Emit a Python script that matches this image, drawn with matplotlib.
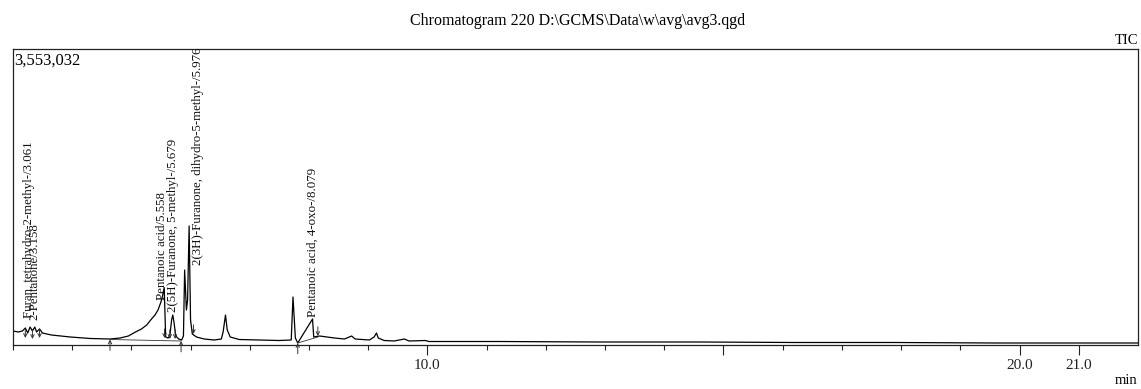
import matplotlib
matplotlib.use("Agg")
import matplotlib.pyplot as plt

# ---------------- data ----------------
title = "Chromatogram 220 D:\\GCMS\\Data\\w\\avg\\avg3.qgd"
y_max_label = "3,553,032"
y_max = 3553032

# retention time (min) and intensity (counts) of the TIC trace
time_min = [3.00, 3.09, 3.16, 3.21, 3.25, 3.29, 3.33, 3.37, 3.40, 3.45, 3.50,
            3.65, 3.97, 4.31, 4.64, 4.81, 4.95, 5.07, 5.17, 5.26, 5.34, 5.40,
            5.45, 5.50, 5.53, 5.555, 5.58, 5.62, 5.65, 5.68, 5.70, 5.72, 5.75,
            5.80, 5.85, 5.88, 5.90, 5.93, 5.95, 5.976, 6.00, 6.03, 6.10, 6.23,
            6.40, 6.52, 6.55, 6.59, 6.62, 6.67, 6.82, 7.16, 7.49, 7.70, 7.73,
            7.77, 7.81, 8.06, 8.08, 8.18, 8.43, 8.60, 8.68, 8.72, 8.78, 9.02,
            9.10, 9.14, 9.17, 9.27, 9.44, 9.61, 9.69, 9.97, 10.02, 11.2, 12.9,
            14.6, 16.2, 17.9, 19.6, 21.3, 22.0]
intensity = [168e3, 156e3, 168e3, 204e3, 144e3, 216e3, 168e3, 216e3, 156e3,
             192e3, 144e3, 120e3, 96e3, 78e3, 72e3, 84e3, 108e3, 156e3, 192e3,
             240e3, 312e3, 360e3, 420e3, 516e3, 600e3, 690e3, 96e3, 84e3,
             108e3, 300e3, 360e3, 276e3, 108e3, 72e3, 60e3, 108e3, 900e3,
             420e3, 540e3, 1428e3, 300e3, 132e3, 96e3, 72e3, 60e3, 72e3, 156e3,
             360e3, 180e3, 96e3, 66e3, 60e3, 54e3, 60e3, 576e3, 84e3, 24e3,
             312e3, 96e3, 108e3, 84e3, 72e3, 96e3, 108e3, 72e3, 60e3, 96e3,
             144e3, 84e3, 54e3, 48e3, 72e3, 48e3, 54e3, 42e3, 42e3, 36e3,
             36e3, 30e3, 30e3, 24e3, 24e3, 24e3]

# identified peaks: name, label anchor time, label anchor intensity
peak_names = ["Furan, tetrahydro-2-methyl-/3.061", "2-Pentanone/3.158",
              "Pentanoic acid/5.558", "2(5H)-Furanone, 5-methyl-/5.679",
              "2(3H)-Furanone, dihydro-5-methyl-/5.976",
              "Pentanoic acid, 4-oxo-/8.079"]
label_time = [3.27, 3.37, 5.51, 5.70, 6.12, 8.06]
label_int = [324e3, 300e3, 540e3, 396e3, 960e3, 336e3]

# integration markers (peak end: down arrow, peak start: up arrow)
end_marks_t = [3.21, 3.33, 3.45, 5.56, 5.65, 5.74, 6.05, 8.15]
end_marks_i = [84e3, 72e3, 84e3, 84e3, 72e3, 72e3, 132e3, 108e3]
start_marks_t = [4.64, 5.84, 7.81]
start_marks_i = [66e3, 48e3, 24e3]

major_ticks = [10, 15, 20, 21]
major_labels = ["10.0", "", "20.0", "21.0"]
minor_ticks = list(range(3, 22))

# ---------------- figure ----------------
W, H = 1141, 389
fig = plt.figure(figsize=(W / 100, H / 100), dpi=100)
serif = "Liberation Serif"
plt.rcParams["font.family"] = serif

ax = fig.add_axes([12.9 / W, 1 - 345 / H, (1138 - 12.9) / W, (345 - 49) / H])
ax.plot(time_min, intensity, color="black", lw=0.9)
ax.set_xlim(3.0, 22.0)
ax.set_ylim(0, y_max)
ax.set_yticks([])

for s in ax.spines.values():
    s.set_linewidth(0.9)
    s.set_color("#222222")

ax.set_xticks(major_ticks)
ax.set_xticklabels(major_labels, fontsize=11)
ax.set_xticks(minor_ticks, minor=True)
ax.tick_params(axis="x", which="major", direction="out", length=7, width=0.8,
               pad=3, colors="#222222")
ax.tick_params(axis="x", which="minor", direction="out", length=3.5, width=0.8,
               colors="#222222")

# peak labels
for name, t, i in zip(peak_names, label_time, label_int):
    ax.text(t, i, name, rotation=90, rotation_mode="anchor", ha="left",
            va="center", fontsize=9.3, color="#111111")

# integration markers
for t, i in zip(end_marks_t, end_marks_i):
    ax.annotate("", xy=(t, i), xytext=(t, i + 110e3),
                arrowprops=dict(arrowstyle="->", lw=0.7, color="#333333",
                                shrinkA=0, shrinkB=0, mutation_scale=6))
for t, i in zip(start_marks_t, start_marks_i):
    ax.annotate("", xy=(t, i), xytext=(t, i - 130e3),
                arrowprops=dict(arrowstyle="->", lw=0.7, color="#333333",
                                shrinkA=0, shrinkB=0, mutation_scale=6),
                annotation_clip=False)

# integration baselines
ax.plot([start_marks_t[0], start_marks_t[1]], [start_marks_i[0], start_marks_i[1]],
        color="#333333", lw=0.6)
ax.plot([start_marks_t[2], end_marks_t[7]], [start_marks_i[2], end_marks_i[7] - 12e3],
        color="#333333", lw=0.6)

ax.text(0.001, 0.96, y_max_label, transform=ax.transAxes, ha="left", va="center",
        fontsize=12)

fig.text(578 / W, 1 - 21 / H, title, ha="center", va="center", fontsize=11.5)
fig.text(1138 / W, 1 - 40 / H, "TIC", ha="right", va="center", fontsize=10.5)
fig.text(1137 / W, 1 - 381 / H, "min", ha="right", va="center", fontsize=10.5)

fig.savefig("out.png", dpi=100, facecolor="white")
